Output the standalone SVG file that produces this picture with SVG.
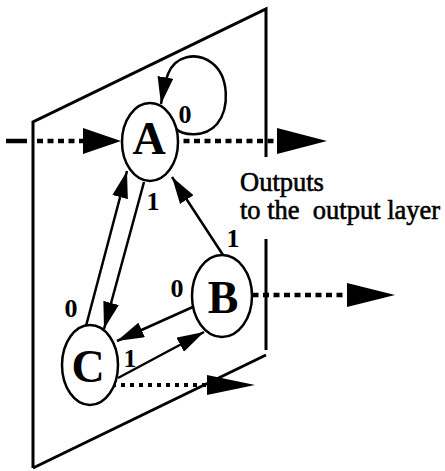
<svg xmlns="http://www.w3.org/2000/svg" width="445" height="471" viewBox="0 0 445 471">
<style>
.plane{fill:none;stroke:#000;stroke-width:3}
.node{fill:#fff;stroke:#000;stroke-width:2.5}
.nl{font-family:"Liberation Serif",serif;font-weight:bold;font-size:46px;text-anchor:middle;fill:#000}
.el{font-family:"Liberation Serif",serif;font-weight:bold;font-size:26px;text-anchor:middle;fill:#000}
.edge{fill:none;stroke:#000;stroke-width:2.5}
.io{fill:none;stroke:#000;stroke-width:4.5;stroke-dasharray:6 4.5}
.io2{fill:none;stroke:#000;stroke-width:4;stroke-dasharray:4 5}
.head{fill:#000}
.txt{font-family:"Liberation Serif",serif;font-size:26.5px;fill:#000;stroke:#000;stroke-width:0.6}
</style>
<defs>
<marker id="ah" viewBox="0 0 27 16" markerWidth="27" markerHeight="16" refX="27" refY="8" orient="auto" markerUnits="userSpaceOnUse"><path d="M0,0 L27,8 L0,16 z" fill="#000"/></marker>
</defs>
<g id="plane">
<path class="plane" d="M33,468 L33,122 L266,9 L266,157 M266,239 L266,350 M33,468 L266,355"/>
</g>
<g id="connectors">
<line x1="6" y1="141" x2="27" y2="141" stroke="#000" stroke-width="4.5"/>
<line class="io" x1="37" y1="141" x2="86" y2="141"/>
<polygon class="head" points="83,128 121,141 83,154"/>
<line class="io" x1="173" y1="141" x2="280" y2="141"/>
<polygon class="head" points="277,128 327,141 277,154"/>
<line class="io" x1="242" y1="295" x2="350" y2="295"/>
<polygon class="head" points="347,283 395,295 347,307"/>
<line class="io2" x1="103" y1="385" x2="210" y2="385"/>
<polygon class="head" points="207,375 255,385 207,395"/>
<path class="edge" d="M175,128 C183,136 205,138 217,124 C230,108 229,76 212,63 C196,51 175,56 168,74 C165,82 163,92 161,104" marker-end="url(#ah)"/>
<line class="edge" x1="86" y1="326" x2="127" y2="171" marker-end="url(#ah)"/>
<line class="edge" x1="144" y1="182" x2="104" y2="329" marker-end="url(#ah)"/>
<line class="edge" x1="223" y1="255" x2="172" y2="177" marker-end="url(#ah)"/>
<line class="edge" x1="195" y1="306" x2="117" y2="341" marker-end="url(#ah)"/>
<line class="edge" x1="118" y1="378" x2="204" y2="332" marker-end="url(#ah)"/>
<text class="el" x="185" y="123">0</text>
<text class="el" x="153" y="210">1</text>
<text class="el" x="71" y="317">0</text>
<text class="el" x="233" y="247">1</text>
<text class="el" x="177" y="297">0</text>
<text class="el" x="130" y="367">1</text>
</g>
<g id="A">
<ellipse class="node" cx="150" cy="142" rx="28" ry="39"/>
<text class="nl" x="149" y="154">A</text>
</g>
<g id="B">
<ellipse class="node" cx="222" cy="296" rx="30" ry="41"/>
<text class="nl" x="223" y="313">B</text>
</g>
<g id="C">
<ellipse class="node" cx="90" cy="365" rx="28" ry="40"/>
<text class="nl" x="88" y="382">C</text>
</g>
<g id="label">
<text class="txt" x="240" y="191">Outputs</text>
<text class="txt" x="240" y="219" xml:space="preserve">to the  output layer</text>
</g>
</svg>
